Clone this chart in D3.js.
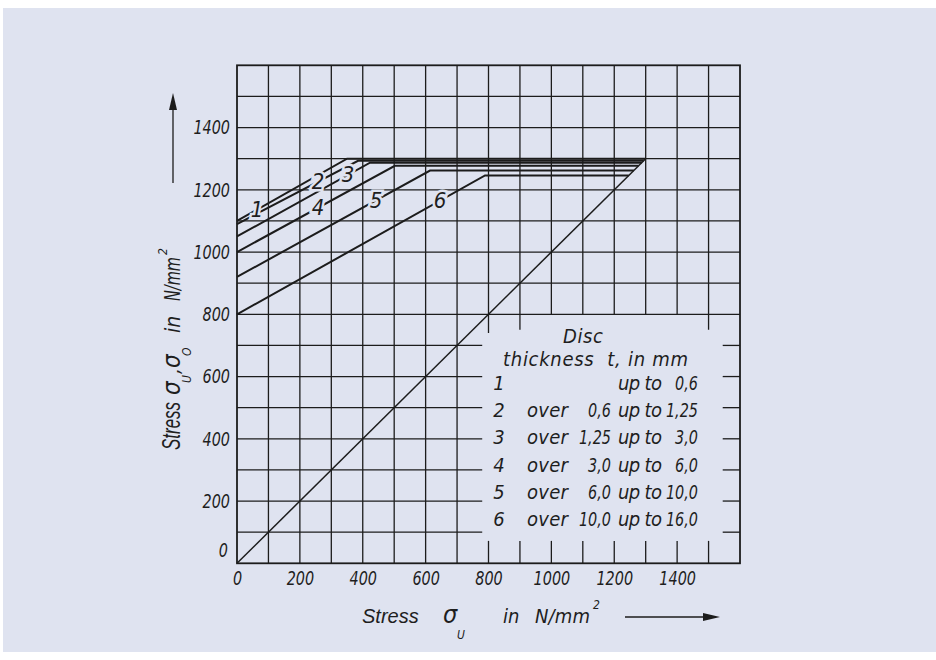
<!DOCTYPE html>
<html><head><meta charset="utf-8">
<script src="https://cdn.jsdelivr.net/npm/d3@7"></script>
<style>
body{margin:0;background:#fff;}
svg{display:block;}
.iso{font-family:"Liberation Sans Narrow","Arial Narrow","DejaVu Sans Condensed",sans-serif;font-style:italic;font-stretch:condensed;fill:#1e1e1e;}
.sans{font-family:"Liberation Sans",Arial,sans-serif;font-style:italic;fill:#1e1e1e;}
</style></head><body>
<svg id="chart" width="936" height="660"></svg>
<script>
// ---- data ----
const xTicks = [0, 200, 400, 600, 800, 1000, 1200, 1400];
const yTicks = [0, 200, 400, 600, 800, 1000, 1200, 1400];
const gridValues = d3.range(0, 1601, 100);
const curveNames = ["1", "2", "3", "4", "5", "6"];
const curveStart = [1100, 1090, 1050, 1000, 920, 800];     // σo at σu = 0
const curveKnee = [350, 385, 423, 502, 614, 789];          // σu where the curve turns flat
const curvePlateau = [1300, 1293, 1287, 1277, 1262, 1246]; // flat level (ends on the diagonal)
const curveLabelAt = [64, 258, 353, 258, 442, 646];        // σu where the number sits
const diagonal = [0, 1300];
const legendHead = ["Disc", "thickness  t, in mm"];
const legendNum = ["1", "2", "3", "4", "5", "6"];
const legendOver = ["", "over", "over", "over", "over", "over"];
const legendFrom = ["", "0,6", "1,25", "3,0", "6,0", "10,0"];
const legendTo = ["0,6", "1,25", "3,0", "6,0", "10,0", "16,0"];

// ---- layout ----
const W = 936, H = 660, BG = "#dfe3f0", INK = "#1c1c1c";
const svg = d3.select("#chart");
svg.append("rect").attr("x", 3).attr("y", 8).attr("width", W - 3).attr("height", 644).attr("fill", BG);

function condense(sel, f) {
  sel.each(function () {
    const w = this.getComputedTextLength();
    d3.select(this).attr("textLength", w * f).attr("lengthAdjust", "spacingAndGlyphs");
  });
  return sel;
}

const x = d3.scaleLinear().domain([0, 1600]).range([237, 740]);
const y = d3.scaleLinear().domain([0, 1600]).range([563.3, 65.3]);

const g = svg.append("g");
const grid = g.append("g").attr("stroke", INK).attr("stroke-width", 1.3).attr("fill", "none");

// vertical grid lines (interrupted by the legend field)
const gapTop = v => (v === 800 ? 740 : v === 900 || v === 1500 ? 750 : 800);
gridValues.filter(v => v > 0 && v < 1600).forEach(v => {
  if (v >= 800 && v <= 1500) {
    grid.append("line").attr("x1", x(v)).attr("x2", x(v)).attr("y1", y(1600)).attr("y2", y(gapTop(v)));
    grid.append("line").attr("x1", x(v)).attr("x2", x(v)).attr("y1", y(0)).attr("y2", y(72));
  } else {
    grid.append("line").attr("x1", x(v)).attr("x2", x(v)).attr("y1", y(1600)).attr("y2", y(0));
  }
});
// horizontal grid lines
gridValues.filter(v => v > 0 && v < 1600).forEach(v => {
  if (v >= 100 && v <= 700) {
    grid.append("line").attr("x1", x(0)).attr("x2", x(780)).attr("y1", y(v)).attr("y2", y(v));
    grid.append("line").attr("x1", x(1545)).attr("x2", x(1600)).attr("y1", y(v)).attr("y2", y(v));
  } else {
    grid.append("line").attr("x1", x(0)).attr("x2", x(1600)).attr("y1", y(v)).attr("y2", y(v));
  }
});
// frame
g.append("rect").attr("x", x(0)).attr("y", y(1600)).attr("width", x(1600) - x(0)).attr("height", y(0) - y(1600))
  .attr("fill", "none").attr("stroke", INK).attr("stroke-width", 1.8);

// diagonal σo = σu
const line = d3.line().x(d => x(d[0])).y(d => y(d[1]));
g.append("path").attr("d", line(diagonal.map(v => [v, v])))
  .attr("fill", "none").attr("stroke", INK).attr("stroke-width", 1.5);

// curves 1..6
const curves = curveNames.map((n, i) => [[0, curveStart[i]], [curveKnee[i], curvePlateau[i]], [curvePlateau[i], curvePlateau[i]]]);
g.append("g").selectAll("path").data(curves).join("path")
  .attr("d", line).attr("fill", "none").attr("stroke", INK).attr("stroke-width", 2);

// curve numbers sitting on their curves
curveNames.forEach((n, i) => {
  const u = curveLabelAt[i];
  const v = curveStart[i] + (curvePlateau[i] - curveStart[i]) * u / curveKnee[i];
  g.append("text").attr("class", "iso").attr("x", x(u)).attr("y", y(v))
    .attr("text-anchor", "middle").attr("dominant-baseline", "central")
    .attr("font-size", 22).attr("stroke", BG).attr("stroke-width", 5).attr("paint-order", "stroke")
    .text(n);
});

// axes (labels only)
const yAxis = g.append("g").attr("transform", `translate(${x(0)},0)`)
  .call(d3.axisLeft(y).tickValues(yTicks).tickSize(0).tickPadding(7).tickFormat(d3.format("d")));
const xAxis = g.append("g").attr("transform", `translate(0,${y(0)})`)
  .call(d3.axisBottom(x).tickValues(xTicks).tickSize(0).tickPadding(8).tickFormat(d3.format("d")));
[yAxis, xAxis].forEach(a => {
  a.select(".domain").remove();
  a.selectAll("text").attr("class", "iso").attr("font-size", 20).attr("fill", INK);
  condense(a.selectAll("text"), 0.8);
});
yAxis.selectAll(".tick").filter(d => d === 0).select("text").attr("dy", "-0.35em").attr("x", -9);

// legend
const leg = g.append("g").attr("class", "iso").attr("font-size", 20);
leg.append("text").attr("x", 563).attr("y", 343).attr("textLength", 40).attr("lengthAdjust", "spacing").text(legendHead[0]);
leg.append("text").attr("x", 503).attr("y", 366).attr("textLength", 185).attr("lengthAdjust", "spacing")
  .attr("xml:space", "preserve").text(legendHead[1]);
legendNum.forEach((n, i) => {
  const by = 390 + i * 27.2;
  leg.append("text").attr("x", 499).attr("y", by).attr("text-anchor", "middle").text(n);
  if (legendOver[i]) leg.append("text").attr("x", 527).attr("y", by).attr("textLength", 41).attr("lengthAdjust", "spacing").text(legendOver[i]);
  if (legendFrom[i]) condense(leg.append("text").attr("x", 611).attr("y", by).attr("text-anchor", "end").text(legendFrom[i]), 0.8);
  leg.append("text").attr("x", 618).attr("y", by).attr("textLength", 44).attr("lengthAdjust", "spacing").text("up to");
  condense(leg.append("text").attr("x", 698).attr("y", by).attr("text-anchor", "end").text(legendTo[i]), 0.8);
});

// x title
const xt = svg.append("g");
xt.append("text").attr("class", "sans").attr("x", 362).attr("y", 623).attr("font-size", 20).text("Stress");
xt.append("text").attr("class", "iso").attr("x", 443).attr("y", 623).attr("font-size", 25).text("σ");
xt.append("text").attr("class", "iso").attr("x", 457).attr("y", 639).attr("font-size", 12).text("U");
xt.append("text").attr("class", "iso").attr("x", 503).attr("y", 623).attr("font-size", 20).text("in");
xt.append("text").attr("class", "iso").attr("x", 535).attr("y", 623).attr("font-size", 20)
  .attr("textLength", 55).attr("lengthAdjust", "spacing").text("N/mm");
xt.append("text").attr("class", "iso").attr("x", 593).attr("y", 609).attr("font-size", 12).text("2");
xt.append("line").attr("x1", 625).attr("x2", 706).attr("y1", 617).attr("y2", 617).attr("stroke", INK).attr("stroke-width", 1.3);
xt.append("path").attr("d", "M720,617L703,613L703,621Z").attr("fill", INK);

// y title (rotated)
const yt = svg.append("g").attr("transform", "translate(180,0) rotate(-90)");
yt.append("text").attr("class", "sans").attr("x", -450).attr("y", 0).attr("font-size", 25)
  .attr("textLength", 48).attr("lengthAdjust", "spacingAndGlyphs").text("Stress");
yt.append("text").attr("class", "iso").attr("x", -395).attr("y", 0).attr("font-size", 24).text("σ");
yt.append("text").attr("class", "iso").attr("x", -383).attr("y", 11).attr("font-size", 12).text("U");
yt.append("text").attr("class", "iso").attr("x", -374).attr("y", 0).attr("font-size", 21).text(",");
yt.append("text").attr("class", "iso").attr("x", -368).attr("y", 0).attr("font-size", 24).text("σ");
yt.append("text").attr("class", "iso").attr("x", -356).attr("y", 11).attr("font-size", 12).text("O");
yt.append("text").attr("class", "iso").attr("x", -333).attr("y", 0).attr("font-size", 21).text("in");
yt.append("text").attr("class", "iso").attr("x", -301).attr("y", 0).attr("font-size", 21)
  .attr("textLength", 44).attr("lengthAdjust", "spacingAndGlyphs").text("N/mm");
yt.append("text").attr("class", "iso").attr("x", -255).attr("y", -13).attr("font-size", 12).text("2");
svg.append("line").attr("x1", 173).attr("x2", 173).attr("y1", 183).attr("y2", 106).attr("stroke", INK).attr("stroke-width", 1.3);
svg.append("path").attr("d", "M173,93L169,110L177,110Z").attr("fill", INK);
</script>
</body></html>
